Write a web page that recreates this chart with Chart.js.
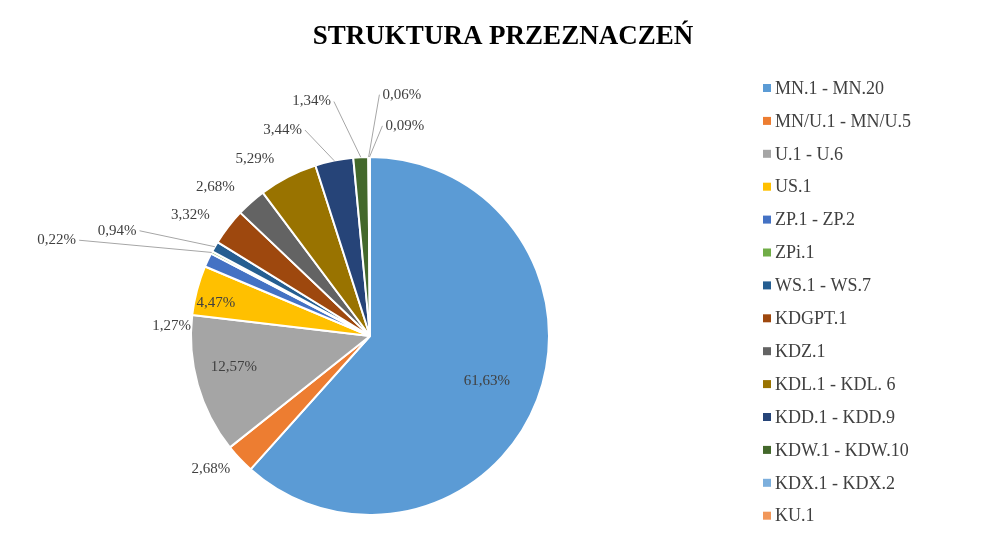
<!DOCTYPE html>
<html><head><meta charset="utf-8">
<script src="https://cdn.jsdelivr.net/npm/chart.js@4"></script>
<style>html,body{margin:0;padding:0;background:#fff}#w{width:1006px;height:534px;position:relative}</style>
</head><body><div id="w"><canvas id="c"></canvas></div>
<script>
const title = "STRUKTURA PRZEZNACZEŃ";
const categories = ["MN.1 - MN.20","MN/U.1 - MN/U.5","U.1 - U.6","US.1","ZP.1 - ZP.2","ZPi.1","WS.1 - WS.7","KDGPT.1","KDZ.1","KDL.1 - KDL. 6","KDD.1 - KDD.9","KDW.1 - KDW.10","KDX.1 - KDX.2","KU.1"];
const values = [61.63,2.68,12.57,4.47,1.27,0.22,0.94,3.32,2.68,5.29,3.44,1.34,0.06,0.09];
const colors = ["#5B9BD5","#ED7D31","#A5A5A5","#FFC000","#4472C4","#70AD47","#255E91","#9E480E","#636363","#997300","#264478","#43682B","#7CAFDD","#F1975A"];
// label placement: [angle deg clockwise from top, radius factor, leader line]
const labelPos = [[111,0.7,0],[230,1.16,0],[257,0.78,0],[282,0.88,0],[273,1.11,0],[287,1.83,1],[292.6,1.53,1],[304,1.21,0],[314,1.2,0],[327,1.18,0],[337,1.25,1],[346,1.35,1],[7.5,1.36,1],[9.4,1.19,1]];
const fmt = v => v.toFixed(2).replace('.', ',') + '%';
const deco = {
  id:'deco',
  afterDraw(chart){
    const ctx = chart.ctx;
    ctx.save();
    ctx.fillStyle='#000';
    ctx.font='bold 27px "Liberation Serif"';
    ctx.textAlign='center'; ctx.textBaseline='middle';
    ctx.fillText(title, 503, 37);
    // legend
    ctx.font='18px "Liberation Serif"'; ctx.textAlign='left';
    categories.forEach((c,i)=>{
      const y = 88 + i*32.9;
      ctx.fillStyle=colors[i]; ctx.fillRect(763,y-4,8,8);
      ctx.fillStyle='#404040'; ctx.fillText(c,775,y+1);
    });
    // labels
    const meta = chart.getDatasetMeta(0);
    ctx.font='15px "Liberation Serif"';
    meta.data.forEach((arc,i)=>{
      const {x,y,outerRadius,startAngle,endAngle} = arc.getProps(['x','y','outerRadius','startAngle','endAngle'],true);
      const [deg,f,line] = labelPos[i];
      const a = (deg-90)*Math.PI/180;
      const lx = x + Math.cos(a)*outerRadius*f, ly = y + Math.sin(a)*outerRadius*f;
      const txt = fmt(values[i]);
      const w = ctx.measureText(txt).width;
      if(line){
        const m=(startAngle+endAngle)/2;
        const ex = x+Math.cos(m)*outerRadius, ey = y+Math.sin(m)*outerRadius;
        const right = lx > x;
        const tx = right ? lx - w/2 - 3 : lx + w/2 + 3;
        ctx.strokeStyle='#a6a6a6'; ctx.lineWidth=1;
        ctx.beginPath(); ctx.moveTo(ex,ey); ctx.lineTo(tx,ly); ctx.stroke();
      }
      ctx.fillStyle='#404040'; ctx.textAlign='center';
      ctx.fillText(txt,lx,ly);
    });
    ctx.restore();
  }
};
new Chart(document.getElementById('c'),{
  type:'pie',
  data:{labels:categories,datasets:[{data:values,backgroundColor:colors,borderColor:'#fff',borderWidth:2}]},
  options:{responsive:true,maintainAspectRatio:false,animation:false,
    layout:{padding:{top:156,bottom:18,left:190,right:456}},
    plugins:{legend:{display:false},tooltip:{enabled:false}}},
  plugins:[deco]
});
</script></body></html>
